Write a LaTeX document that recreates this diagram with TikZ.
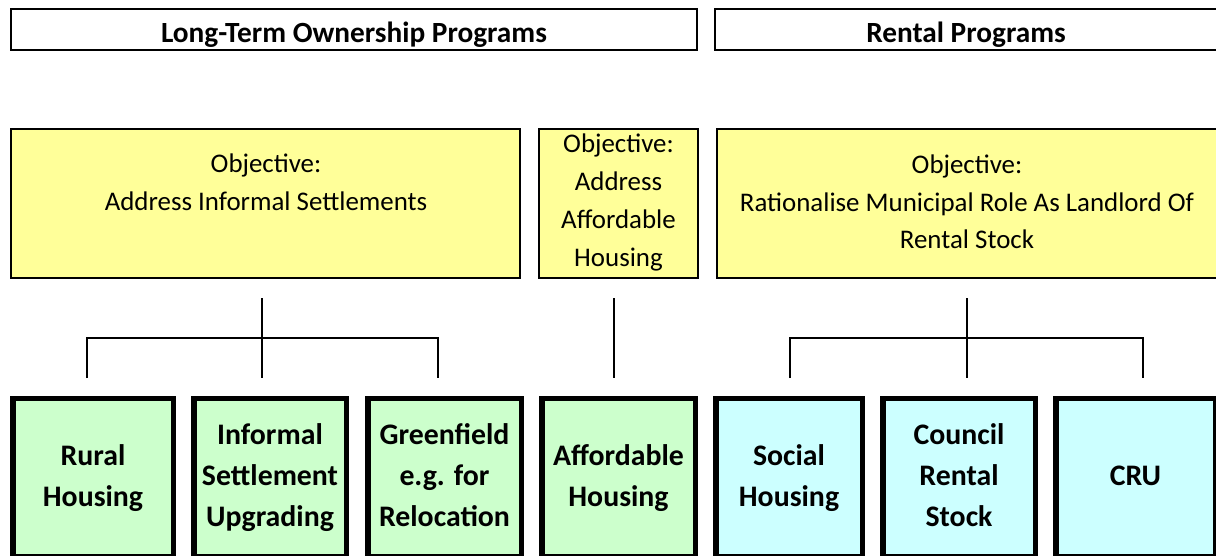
\documentclass[tikz,border=0pt]{standalone}
\usepackage{fontspec}
\setmainfont{Carlito}
\definecolor{objyellow}{HTML}{FFFF99}
\definecolor{progreen}{HTML}{CCFFCC}
\definecolor{procyan}{HTML}{CCFFFF}
\newcommand{\lastdp}{\rule[-6pt]{0pt}{6pt}}
\newcommand{\firstht}{\rule{0pt}{22pt}}
\tikzset{
  headbox/.style={draw=black, line width=2pt, inner sep=0pt},
  headtext/.style={inner sep=0pt, anchor=base, font=\bfseries\fontsize{29.3}{34}\selectfont},
  objbox/.style={draw=black, line width=2pt, fill=objyellow, inner sep=0pt},
  objtext/.style={align=center, inner sep=0pt, font=\fontsize{26.9}{37.7}\selectfont},
  progbox/.style={draw=black, line width=5.5pt, inner sep=0pt, align=center,
    font=\bfseries\fontsize{29.8}{41}\selectfont},
  greenprog/.style={progbox, fill=progreen},
  cyanprog/.style={progbox, fill=procyan},
  conn/.style={draw=black, line width=2pt}
}
\begin{document}
\begin{tikzpicture}[x=1pt,y=-1pt]
\useasboundingbox (0,0) rectangle (1216,556);
\clip (0,0) rectangle (1216,556);
\fill[white] (0,0) rectangle (1216,556);

% headers
\node[headbox, minimum width=686pt, minimum height=41pt] (hown) at (354,29.5) {};
\node[headbox, minimum width=502pt, minimum height=41pt] (hrent) at (966,29.5) {};
\node[headtext] (thown) at (354,43) {Long-Term Ownership Programs};
\node[headtext] (thrent) at (966,43) {Rental Programs};

% objective boxes
\node[objbox, minimum width=509pt, minimum height=149pt] (oinf) at (265.5,203.5) {};
\node[objbox, minimum width=159pt, minimum height=149pt] (oaff) at (618.5,203.5) {};
\node[objbox, minimum width=500pt, minimum height=149pt] (orent) at (967,203.5) {};

\node[objtext] (tinf) at (266,182.5) {Objective:\\Address Informal Settlements};
\node[objtext] (taff) at (618.5,202.5) {Objective:\\Address\\Affordable\\Housing};
\node[objtext] (trent) at (967,202) {Objective:\\Rationalise Municipal Role As Landlord Of\\Rental Stock};

% program boxes
\node[greenprog, minimum width=160.5pt, minimum height=157.75pt] (rural) at (93,477.6) {\firstht Rural\\Housing\lastdp};
\node[greenprog, minimum width=152.5pt, minimum height=157.75pt] (isu) at (270,477.6) {\firstht Informal\\Settlement\\Upgrading\lastdp};
\node[greenprog, minimum width=153.5pt, minimum height=157.75pt] (green) at (444.5,477.6) {\firstht Greenfield\\e.g. for\\Relocation\lastdp};
\node[greenprog, minimum width=153.5pt, minimum height=157.75pt] (afford) at (618.5,477.6) {\firstht Affordable\\Housing\lastdp};
\node[cyanprog, minimum width=146.5pt, minimum height=157.75pt] (social) at (789,477.6) {\firstht Social\\Housing\lastdp};
\node[cyanprog, minimum width=152.5pt, minimum height=157.75pt] (council) at (959,477.6) {\firstht Council\\Rental\\Stock\lastdp};
\node[cyanprog, minimum width=159.5pt, minimum height=157.75pt] (cru) at (1135.5,477.6) {\firstht CRU\lastdp};

% connector coordinates
\coordinate (lt) at (262,298);
\coordinate (lm) at (262,338);
\coordinate (la) at (87,378);
\coordinate (lb) at (262,378);
\coordinate (lc) at (438,378);
\coordinate (mt) at (614,298);
\coordinate (mb) at (614,378);
\coordinate (rt) at (967,298);
\coordinate (rm) at (967,338);
\coordinate (ra) at (790,378);
\coordinate (rb) at (967,378);
\coordinate (rc) at (1143,378);

\draw[conn] (lt) -- (lb);
\draw[conn] (la) |- (lm) -| (lc);
\draw[conn] (mt) -- (mb);
\draw[conn] (rt) -- (rb);
\draw[conn] (ra) |- (rm) -| (rc);
\end{tikzpicture}
\end{document}
